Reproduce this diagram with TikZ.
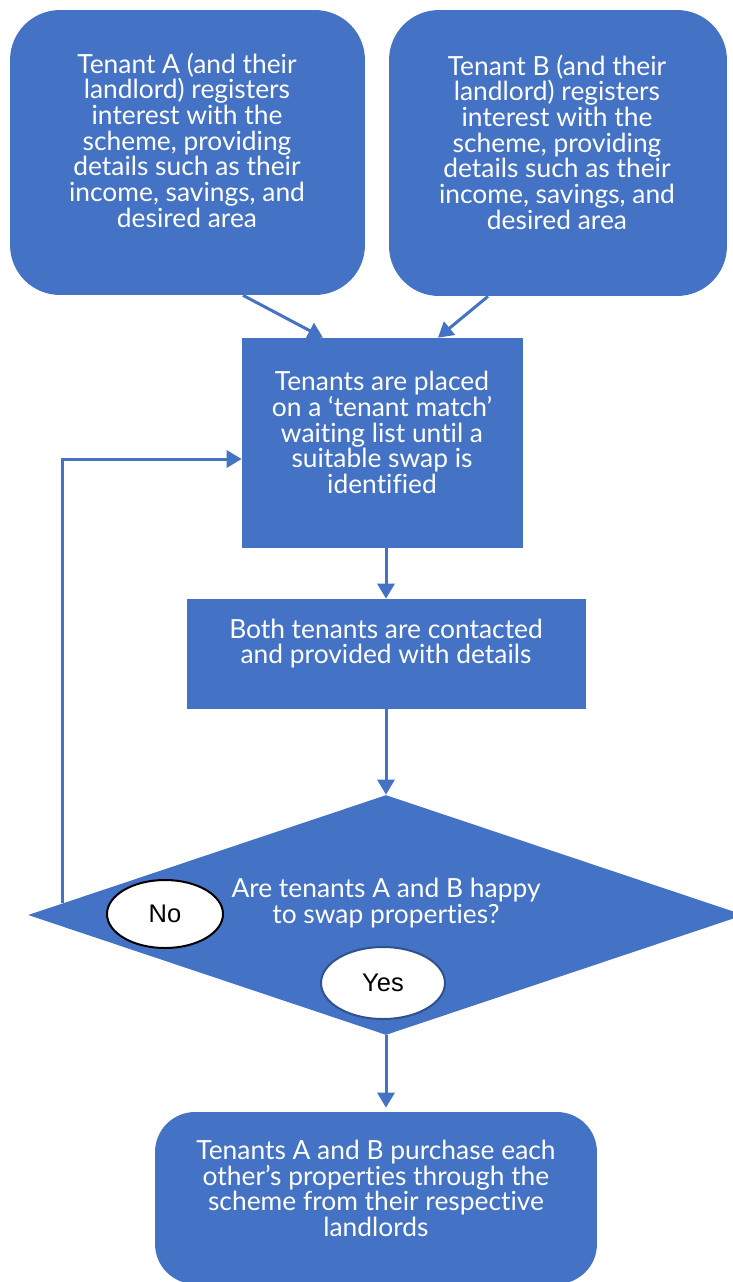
\documentclass[tikz,border=0pt]{standalone}
\usepackage{fontspec}
\setmainfont{Lato}[Ligatures={NoCommon}]
\newfontfamily\answerfont{Liberation Sans}
\usetikzlibrary{arrows.meta,positioning,shapes.geometric,calc}
\definecolor{schemeblue}{HTML}{4472C4}
\definecolor{yesedge}{HTML}{2F528F}

\begin{document}
\begin{tikzpicture}[x=0.02cm,y=-0.02cm,
  stage/.style={fill=schemeblue,draw=none,inner sep=0pt},
  stagetext/.style={text=white,align=center,inner sep=0pt,font=\fontsize{15}{14.6}\selectfont},
  flow/.style={draw=schemeblue,line width=0.06cm,-{Triangle[length=0.3cm,width=0.34cm]}},
  answer/.style={ellipse,fill=white,line width=0.04cm,inner sep=0pt,font=\answerfont\fontsize{14.5}{16}\selectfont}]
\useasboundingbox (0,0) rectangle (733,1282);
% boxes
\node[stage,rounded corners=1cm,minimum width=7.1cm,minimum height=5.7cm] (tenantA) at (187.5,152.5) {};
\node[stage,rounded corners=1cm,minimum width=6.76cm,minimum height=5.72cm] (tenantB) at (558,153) {};
\node[stage,minimum width=5.62cm,minimum height=4.2cm] (waitlist) at (382.5,443) {};
\node[stage,minimum width=7.98cm,minimum height=2.2cm] (contact) at (386.5,654) {};
\node[stage,diamond,minimum width=14.32cm,minimum height=4.8cm] (decide) at (386,915) {};
\node[stage,rounded corners=0.8cm,minimum width=8.84cm,minimum height=3.44cm] (purchase) at (376,1198) {};
% texts
\node[stagetext] (tenantAtext) at (187,140) {Tenant A (and their\\landlord) registers\\interest with the\\scheme, providing\\details such as their\\income, savings, and\\desired area};
\node[stagetext] (tenantBtext) at (557,142) {Tenant B (and their\\landlord) registers\\interest with the\\scheme, providing\\details such as their\\income, savings, and\\desired area};
\node[stagetext] (waitlisttext) at (382,432.5) {Tenants are placed\\on a ‘tenant match’\\waiting list until a\\suitable swap is\\identified};
\node[stagetext] (contacttext) at (386,643.5) {Both tenants are contacted\\and provided with details};
\node[stagetext] (decidetext) at (386,903) {Are tenants A and B happy\\to swap properties?};
\node[stagetext] (purchasetext) at (376,1188.5) {Tenants A and B purchase each\\other’s properties through the\\scheme from their respective\\landlords};
% answers
\node[answer,draw=black,minimum width=2.32cm,minimum height=1.36cm] (no) at (165,914) {No};
\node[answer,draw=yesedge,minimum width=2.48cm,minimum height=1.44cm] (yes) at (383,983) {Yes};
% arrows
\draw[flow] ([xshift=1.11cm]tenantA.south) -- ([xshift=-1.19cm]waitlist.north);
\draw[flow] ([xshift=-1.4cm]tenantB.south) -- ([xshift=1.11cm]waitlist.north);
\draw[flow] (waitlist.south -| decide.north) -- (contact.north -| decide.north);
\draw[flow] (contact.south -| decide.north) -- (decide.north);
\draw[flow] (decide.south) -- ([yshift=0.08cm]purchase.north -| decide.south);
\draw[flow] ($(decide.west)!0.098!(decide.north)$) |- ([yshift=-0.32cm]waitlist.west);
\end{tikzpicture}
\end{document}
